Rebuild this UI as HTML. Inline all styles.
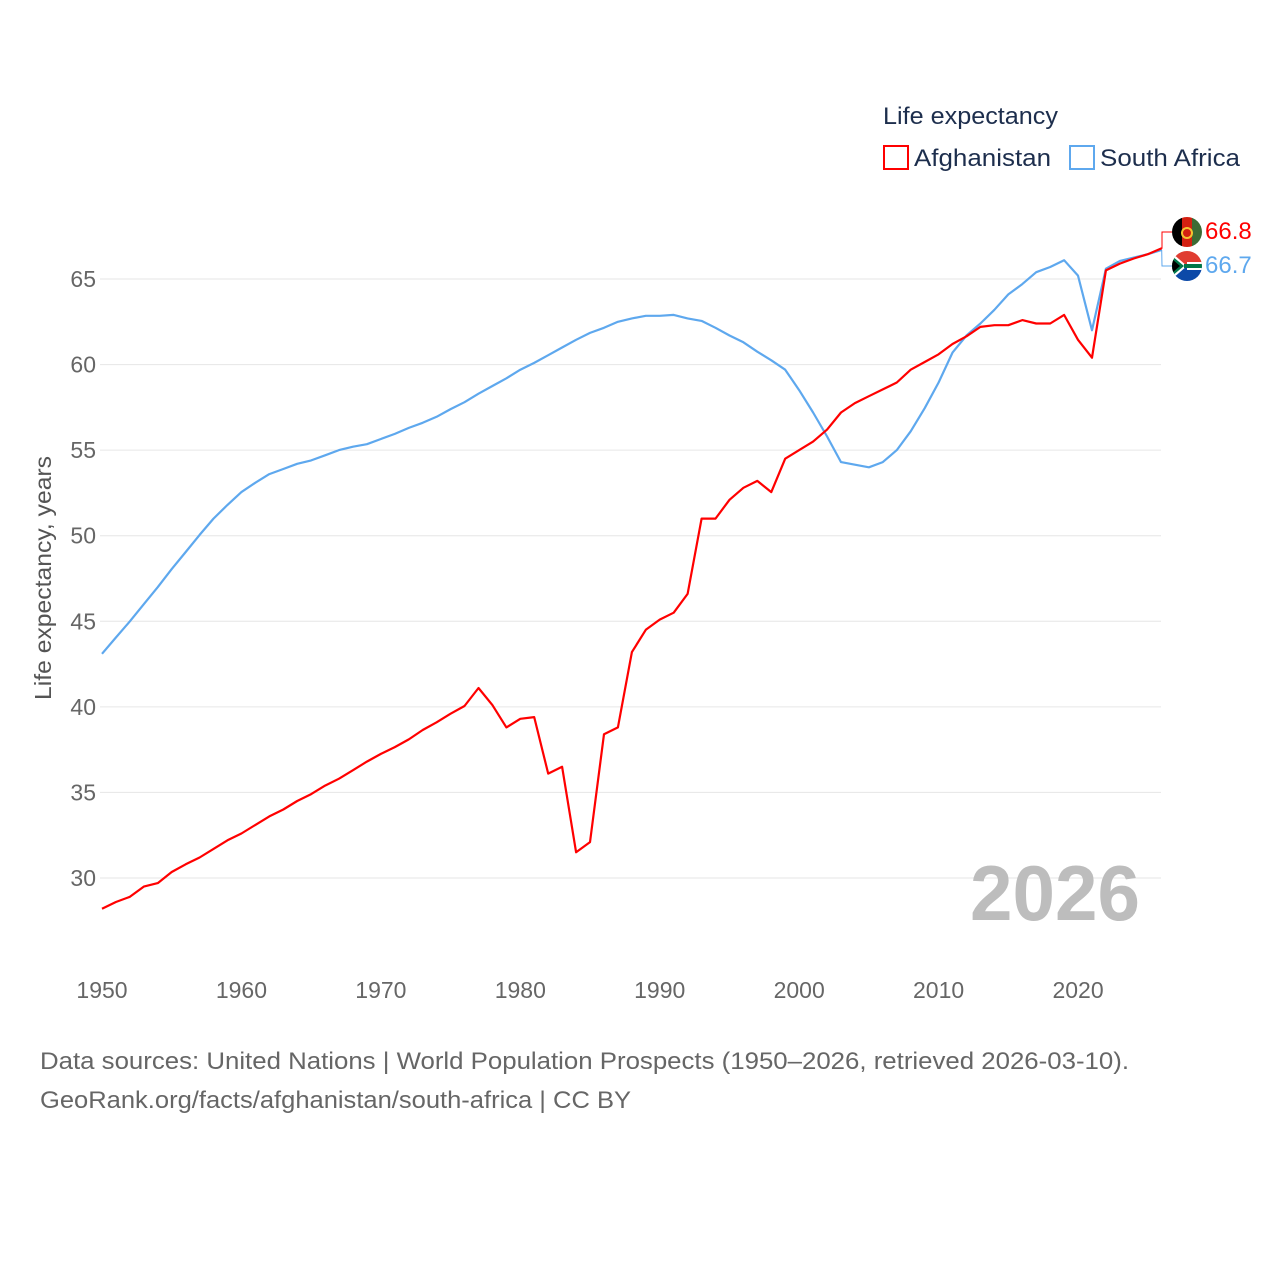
<!DOCTYPE html>
<html><head><meta charset="utf-8"><style>
html,body{margin:0;padding:0;background:#fff;}
svg{display:block;font-family:"Liberation Sans",sans-serif;}
</style></head><body>
<svg id="chart" width="1280" height="1280" viewBox="0 0 1280 1280">
<g>
<text x="883" y="124" font-size="24" fill="#1d2e4d" textLength="175" lengthAdjust="spacingAndGlyphs">Life expectancy</text>
<rect x="884" y="146" width="24" height="23" fill="none" stroke="#ff0000" stroke-width="2"/>
<text x="914" y="166" font-size="24" fill="#1d2e4d" textLength="137" lengthAdjust="spacingAndGlyphs">Afghanistan</text>
<rect x="1070" y="146" width="24" height="23" fill="none" stroke="#5ea8ee" stroke-width="2"/>
<text x="1100" y="166" font-size="24" fill="#1d2e4d" textLength="140" lengthAdjust="spacingAndGlyphs">South Africa</text>
</g>
<g id="grid"></g>
<g id="yticks"></g>
<g id="xticks"></g>
<text transform="translate(51,578) rotate(-90)" text-anchor="middle" font-size="23" fill="#555" textLength="244" lengthAdjust="spacingAndGlyphs">Life expectancy, years</text>
<text x="1140" y="920" text-anchor="end" font-size="78" font-weight="bold" fill="#bdbdbd" textLength="170" lengthAdjust="spacingAndGlyphs">2026</text>
<g id="series"></g>
<g id="endlabels"></g>
<text x="40" y="1069" font-size="24" fill="#666" textLength="1089" lengthAdjust="spacingAndGlyphs">Data sources: United Nations | World Population Prospects (1950–2026, retrieved 2026-03-10).</text>
<text x="40" y="1108" font-size="24" fill="#666" textLength="591" lengthAdjust="spacingAndGlyphs">GeoRank.org/facts/afghanistan/south-africa | CC BY</text>
</svg>
<script>
const years = [];
for (let y = 1950; y <= 2026; y++) years.push(y);
const afghanistan = [28.2,28.6,28.9,29.5,29.7,30.35,30.8,31.2,31.7,32.2,32.6,33.1,33.6,34.0,34.5,34.9,35.4,35.8,36.3,36.8,37.25,37.65,38.1,38.65,39.1,39.6,40.05,41.1,40.1,38.8,39.3,39.4,36.1,36.5,31.5,32.1,38.4,38.8,43.2,44.5,45.1,45.5,46.6,51.0,51.0,52.1,52.8,53.2,52.55,54.5,55.0,55.5,56.2,57.2,57.75,58.15,58.55,58.95,59.7,60.15,60.6,61.2,61.65,62.2,62.3,62.3,62.6,62.4,62.4,62.9,61.45,60.4,65.5,65.9,66.2,66.45,66.8];
const southAfrica = [43.1,44.05,45.0,46.0,47.0,48.05,49.05,50.05,51.0,51.8,52.55,53.1,53.6,53.9,54.2,54.4,54.7,55.0,55.2,55.35,55.65,55.95,56.3,56.6,56.95,57.4,57.8,58.3,58.75,59.2,59.7,60.1,60.55,61.0,61.45,61.85,62.15,62.5,62.7,62.85,62.85,62.9,62.7,62.55,62.15,61.7,61.3,60.75,60.25,59.7,58.5,57.2,55.8,54.3,54.15,54.0,54.3,55.0,56.1,57.45,58.95,60.7,61.7,62.4,63.2,64.1,64.7,65.4,65.7,66.1,65.2,62.0,65.6,66.05,66.25,66.45,66.7];
const yTickValues = [30,35,40,45,50,55,60,65];
const xTickValues = [1950,1960,1970,1980,1990,2000,2010,2020];
const endLabels = ["66.8","66.7"];

const NS = "http://www.w3.org/2000/svg";
const X0 = 102, X1 = 1161.7, Y65 = 279, PXU = 599/35;
function xs(yr){ return X0 + (yr-1950)*(X1-X0)/76; }
function ys(v){ return Y65 + (65-v)*PXU; }
function mk(tag, attrs, parent){ const e=document.createElementNS(NS,tag); for(const k in attrs) e.setAttribute(k,attrs[k]); parent.appendChild(e); return e; }

const grid=document.getElementById('grid'), yt=document.getElementById('yticks'), xt=document.getElementById('xticks');
yTickValues.forEach(v=>{
  const l=mk('line',{x1:100,x2:1161,y1:ys(v),y2:ys(v),stroke:'#e6e6e6','stroke-width':1},grid);
  
  
  const t=mk('text',{x:96,y:ys(v)+8,'text-anchor':'end','font-size':23,fill:'#666'},yt);
  t.textContent=v;
  
  
});
xTickValues.forEach(v=>{
  const t=mk('text',{x:xs(v),y:998,'text-anchor':'middle','font-size':23,fill:'#666'},xt);
  t.textContent=v;
  
  
});
const ser=document.getElementById('series');
function line(data,color,name){
  const d=data.map((v,i)=>(i?'L':'M')+xs(years[i]).toFixed(1)+','+ys(v).toFixed(1)).join('');
  const p=mk('path',{d:d,fill:'none',stroke:color,'stroke-width':2.2,'stroke-linejoin':'round'},ser);
  
  
}
line(southAfrica,'#5ea8ee','line-south-africa');
line(afghanistan,'#ff0000','line-afghanistan');

const el=document.getElementById('endlabels');
const n=years.length-1, ex=xs(years[n]);
const ya=ys(afghanistan[n]), ysa=ys(southAfrica[n]);
const c1=mk('path',{d:`M${ex},${ya} L1162,${ya} L1162,232 L1172,232`,fill:'none',stroke:'#ff0000','stroke-width':1},el);


const c2=mk('path',{d:`M${ex},${ysa} L1162,266 L1172,266`,fill:'none',stroke:'#5ea8ee','stroke-width':1},el);


const fa=mk('g',{},el);


const cpa=mk('clipPath',{id:'cpa'},fa);
mk('circle',{cx:1187,cy:232,r:15},cpa);
const ga=mk('g',{'clip-path':'url(#cpa)'},fa);
mk('rect',{x:1172,y:217,width:10,height:30,fill:'#000'},ga);
mk('rect',{x:1182,y:217,width:10,height:30,fill:'#d32011'},ga);
mk('rect',{x:1192,y:217,width:10,height:30,fill:'#3d6b35'},ga);
mk('circle',{cx:1187,cy:233,r:5,fill:'none',stroke:'#f4c430','stroke-width':2},ga);
const fs=mk('g',{},el);


const cps=mk('clipPath',{id:'cps'},fs);
mk('circle',{cx:1187,cy:266,r:15},cps);
const gs=mk('g',{'clip-path':'url(#cps)'},fs);
mk('rect',{x:1172,y:251,width:30,height:15,fill:'#e03c31'},gs);
mk('rect',{x:1172,y:266,width:30,height:15,fill:'#0c49a8'},gs);
mk('path',{d:'M1172,253 L1187,266 L1172,279 Z M1187,262 L1202,262 L1202,270 L1187,270 Z',fill:'#fff'},gs);
mk('path',{d:'M1172,256 L1184,266 L1172,276 Z M1184,264 L1202,264 L1202,268 L1184,268 Z',fill:'#007749'},gs);
mk('path',{d:'M1172,259 L1180,266 L1172,273 Z',fill:'#000'},gs);
const t1=mk('text',{x:1205,y:239,'font-size':24,fill:'#ff0000'},el);
t1.textContent=endLabels[0];


const t2=mk('text',{x:1205,y:273,'font-size':24,fill:'#5ea8ee'},el);
t2.textContent=endLabels[1];


</script>
</body></html>
